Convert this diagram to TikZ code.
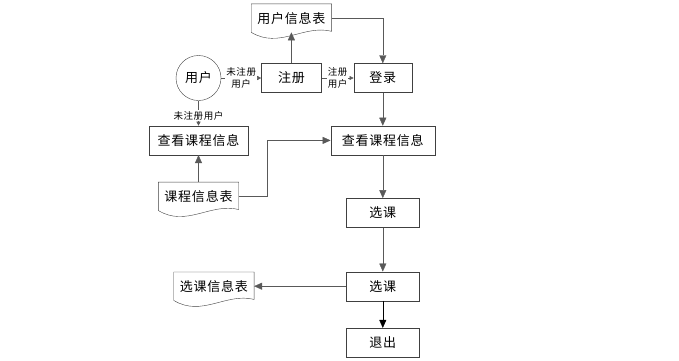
\documentclass[tikz,border=0pt]{standalone}
\usepackage{fontspec}
\newfontfamily\cjk[LetterSpace=6]{Noto Sans CJK SC}
\usetikzlibrary{arrows.meta,positioning,calc}
\definecolor{linegray}{HTML}{595959}
\definecolor{boxgray}{HTML}{404040}
\tikzset{
  flowbox/.style={draw=boxgray, font=\cjk\fontsize{13}{15}\selectfont,
    minimum height=29pt, inner sep=2pt},
  docbox/.style={font=\cjk\fontsize{13}{15}\selectfont, minimum width=80pt,
    minimum height=28pt, inner sep=2pt},
  docline/.style={draw=boxgray},
  flowarrow/.style={draw=linegray, -{Triangle[length=8pt,width=7pt]}},
  smallarrow/.style={draw=linegray, -{Triangle[length=4pt,width=4pt]}},
  flowlabel/.style={fill=white, align=center, inner sep=1pt,
    font=\cjk\fontsize{9.5}{11.3}\selectfont}
}
\newcommand{\docshape}[1]{%
  \draw[docline] (#1.south west) -- (#1.north west) -- (#1.north east)
    -- ($(#1.south east)+(0,1)$)
    .. controls ($(#1.south east)!0.35!(#1.south west)+(0,8)$)
    and ($(#1.south east)!0.65!(#1.south west)+(0,-17)$) .. (#1.south west);}

\begin{document}
\begin{tikzpicture}[x=1pt, y=1pt, node distance=30pt]
    \useasboundingbox (0,0) rectangle (679,-360);
    \node[draw=boxgray, circle, minimum size=45pt, inner sep=0pt,
      font=\cjk\fontsize{13}{15}\selectfont] (user) at (198.5,-78) {用户};
    \node[flowbox, minimum width=60pt, right=40pt of user] (reg) {注册};
    \node[flowbox, minimum width=58pt, right=32pt of reg] (login) {登录};
    \node[docbox, above=31pt of reg] (userdb) {用户信息表};
    \node[flowbox, minimum width=99pt, below=25pt of user] (viewl) {查看课程信息};
    \node[docbox, below=27pt of viewl] (coursedb) {课程信息表};
    \node[flowbox, minimum width=104pt, below=33pt of login] (viewr) {查看课程信息};
    \node[flowbox, minimum width=73pt, below=43pt of viewr] (sel) {选课};
    \node[flowbox, minimum width=73pt, below=44pt of sel] (selb) {选课};
    \node[flowbox, minimum width=73pt, below=27pt of selb] (quit) {退出};
    \node[docbox, left=92pt of selb] (seldb) {选课信息表};
    \docshape{userdb}
    \docshape{coursedb}
    \docshape{seldb}
    % links
    \draw[smallarrow] (user) -- node[flowlabel] {未注册\\用户} (reg);
    \draw[smallarrow] (reg) -- node[flowlabel] {注册\\用户} (login);
    \draw[smallarrow] (user) -- node[flowlabel, pos=0.6] {未注册用户} (viewl);
    \draw[flowarrow] (reg) -- (userdb);
    \draw[flowarrow] (userdb.east) -| (login.north);
    \draw[flowarrow] (login) -- (viewr);
    \draw[flowarrow] (coursedb) -- (viewl);
    \draw[flowarrow] (coursedb.east) -- ++(28,0) |- (viewr.west);
    \draw[flowarrow] (viewr) -- (sel);
    \draw[flowarrow] (sel) -- (selb);
    \draw[-{Triangle[length=8pt,width=7pt]}] (selb) -- (quit);
    \draw[flowarrow] (selb.west) -- (selb.west -| seldb.east);
  \end{tikzpicture}
\end{document}
